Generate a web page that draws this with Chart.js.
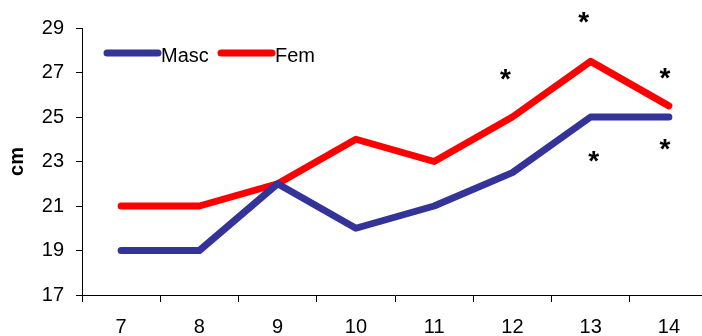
<!DOCTYPE html>
<html>
<head>
<meta charset="utf-8">
<script src="https://cdn.jsdelivr.net/npm/chart.js@4.4.1/dist/chart.umd.min.js"></script>
<style>
  html, body { margin: 0; padding: 0; background: #fff; overflow: hidden; }
</style>
</head>
<body>
<canvas id="chart" width="708" height="336"></canvas>
<script>
const ages = ['7', '8', '9', '10', '11', '12', '13', '14'];
const masc = [19, 19, 22, 20, 21, 22.5, 25, 25];
const fem = [21, 21, 22, 24, 23, 25, 27.5, 25.5];
const yTicks = [17, 19, 21, 23, 25, 27, 29];

// significance marks (*) placed by category and value
const starAges = ['12', '13', '13', '14', '14'];
const starValues = [26.85, 29.4, 23.15, 26.9, 23.7];

const FONT = 'Liberation Sans, Arial, sans-serif';

const legendInside = {
    id: 'legendInside',
    afterDraw(chart) {
        const ctx = chart.ctx;
        const y = 53;
        const items = [
            { x: 107, ds: chart.data.datasets[0] },
            { x: 221, ds: chart.data.datasets[1] }
        ];
        ctx.save();
        items.forEach(it => {
            ctx.strokeStyle = it.ds.borderColor;
            ctx.lineWidth = 7;
            ctx.lineCap = 'round';
            ctx.beginPath();
            ctx.moveTo(it.x, y);
            ctx.lineTo(it.x + 51, y);
            ctx.stroke();
            ctx.fillStyle = '#000';
            ctx.font = '20px ' + FONT;
            ctx.textBaseline = 'middle';
            ctx.fillText(it.ds.label, it.x + 54, y + 3);
        });
        ctx.restore();
    }
};

const stars = {
    id: 'stars',
    afterDatasetsDraw(chart) {
        const ctx = chart.ctx;
        const xs = chart.scales.x, ys = chart.scales.y;
        ctx.save();
        ctx.fillStyle = '#000';
        ctx.font = 'bold 28px ' + FONT;
        ctx.textAlign = 'center';
        ctx.textBaseline = 'alphabetic';
        starAges.forEach((a, i) => {
            const idx = ages.indexOf(a);
            const above = starValues[i] > fem[idx];
            const last = idx === ages.length - 1;
            const px = xs.getPixelForValue(idx) + (last ? -4 : above ? -7 : 3);
            const py = ys.getPixelForValue(starValues[i]);
            ctx.fillText('*', px, py + 12);
        });
        ctx.restore();
    }
};

new Chart(document.getElementById('chart'), {
    type: 'line',
    data: {
        labels: ages,
        datasets: [
            {
                label: 'Masc',
                data: masc,
                borderColor: '#333399',
                borderWidth: 7,
                pointRadius: 0,
                tension: 0,
                borderCapStyle: 'round',
                borderJoinStyle: 'round',
                fill: false
            },
            {
                label: 'Fem',
                data: fem,
                borderColor: '#ff0000',
                borderWidth: 7,
                pointRadius: 0,
                tension: 0,
                borderCapStyle: 'round',
                borderJoinStyle: 'round',
                fill: false
            }
        ]
    },
    options: {
        responsive: false,
        animation: false,
        layout: { padding: { top: 28, right: 0, left: 0, bottom: 0 } },
        plugins: {
            legend: { display: false },
            tooltip: { enabled: false }
        },
        scales: {
            x: {
                offset: true,
                border: { color: '#000', width: 1 },
                grid: {
                    offset: true,
                    drawOnChartArea: false,
                    color: '#000',
                    tickLength: 7
                },
                ticks: {
                    color: '#000',
                    font: { family: FONT, size: 20 },
                    padding: 13,
                    maxRotation: 0
                },
                afterFit(scale) { scale.height = 41; }
            },
            y: {
                min: 17,
                max: 29,
                afterBuildTicks(scale) {
                    scale.ticks = yTicks.map(v => ({ value: v }));
                },
                border: { color: '#000', width: 1 },
                grid: {
                    drawOnChartArea: false,
                    color: '#000',
                    tickLength: 6
                },
                ticks: {
                    color: '#000',
                    font: { family: FONT, size: 20 },
                    padding: 12
                },
                title: {
                    display: true,
                    text: 'cm',
                    color: '#000',
                    font: { family: FONT, size: 20, weight: 'bold' },
                    padding: { top: 5, bottom: 0 }
                },
                afterFit(scale) { scale.width = 82; }
            }
        }
    },
    plugins: [stars, legendInside]
});
</script>
</body>
</html>
